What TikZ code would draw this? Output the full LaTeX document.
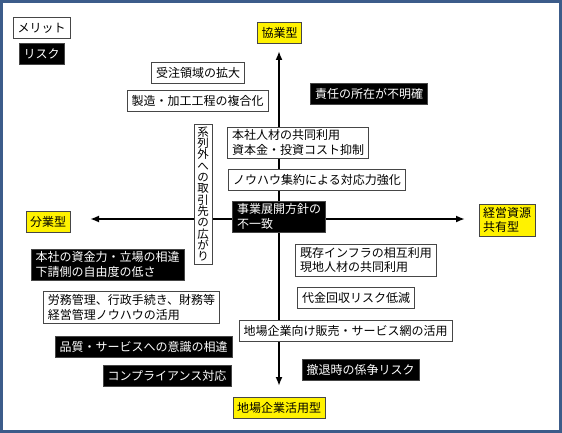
\documentclass[tikz,border=0pt]{standalone}
\usepackage{fontspec}
\newfontfamily\jpfont{Noto Sans CJK JP}
\usepackage{tikz}
\usetikzlibrary{arrows.meta}

\definecolor{framecol}{RGB}{60,92,138}
\definecolor{boxline}{RGB}{70,70,70}

\tikzset{
  merit/.style={draw=boxline, fill=white, font=\jpfont\fontsize{12}{14.5}\selectfont,
    inner xsep=4.5pt, inner ysep=3pt, align=left, minimum height=21pt},
  risk/.style={merit, fill=black, text=white},
  typebox/.style={merit, fill=yellow, inner xsep=4pt},
  axisarrow/.style={line width=2pt, -{Latex[length=9pt,width=7pt]}}
}

\begin{document}
\begin{tikzpicture}[x=1pt, y=-1pt]
    \useasboundingbox (0,0) rectangle (562,433);

    % axes
    \coordinate (o) at (279,219);
    \coordinate (uptip) at (279,51);
    \coordinate (downtip) at (279,386);
    \coordinate (lefttip) at (90,219);
    \coordinate (righttip) at (465,219);
    \draw[axisarrow] (o) -- (uptip);
    \draw[axisarrow] (o) -- (downtip);
    \draw[axisarrow] (o) -- (lefttip);
    \draw[axisarrow] (o) -- (righttip);

    % legend
    \node[merit] (keymerit) at (41.5,28) {メリット};
    \node[risk] (keyrisk) at (41.5,54) {リスク};

    % types
    \node[typebox] (kyogyo) at (279.5,32.5) {協業型};
    \node[typebox] (bungyo) at (48,221.5) {分業型};
    \node[typebox] (kyoyu) at (507,220) {経営資源\\共有型};
    \node[typebox] (jiba) at (279,407.5) {地場企業活用型};

    % upper left
    \node[merit] (juchu) at (198,73) {受注領域の拡大};
    \node[merit] (fukugo) at (197.5,101) {製造・加工工程の複合化};
    \node[merit, align=center, inner xsep=3pt, font=\jpfont\fontsize{11.5}{11.3}\selectfont]
        (keiretsu) at (203,194) {系\\列\\外\\へ\\の\\取\\引\\先\\の\\広\\が\\り};

    % upper right
    \node[risk] (sekinin) at (369,93.5) {責任の所在が不明確};
    \node[merit] (honsha) at (298,142.5) {本社人材の共同利用\\資本金・投資コスト抑制};
    \node[merit] (knowhow) at (317,180) {ノウハウ集約による対応力強化};
    \node[risk] (hoshin) at (279,216.5) {事業展開方針の\\不一致};

    % lower left
    \node[risk] (shikin) at (107.5,264.5) {本社の資金力・立場の相違\\下請側の自由度の低さ};
    \node[merit] (romu) at (131.5,307.5) {労務管理、行政手続き、財務等\\経営管理ノウハウの活用};
    \node[risk] (hinshitsu) at (143.5,346.5) {品質・サービスへの意識の相違};
    \node[risk] (compliance) at (167,375.5) {コンプライアンス対応};

    % lower right
    \node[merit] (infra) at (366,260) {既存インフラの相互利用\\現地人材の共同利用};
    \node[merit] (daikin) at (356,297.5) {代金回収リスク低減};
    \node[merit] (hanbai) at (345.5,331) {地場企業向け販売・サービス網の活用};
    \node[risk] (tettai) at (360.5,370) {撤退時の係争リスク};

    % frame
    \draw[framecol, line width=3pt] (1.5,1.5) rectangle (560.5,431.5);
\end{tikzpicture}
\end{document}
